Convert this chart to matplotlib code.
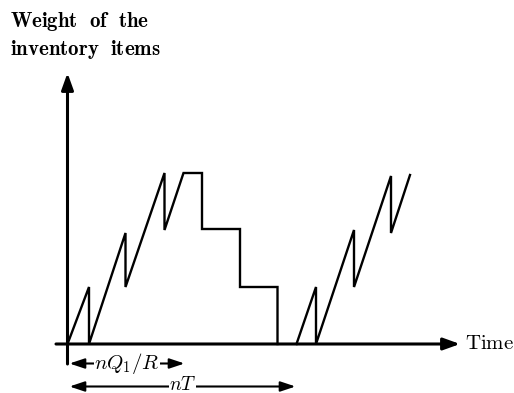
import matplotlib
matplotlib.use("Agg")
import matplotlib.pyplot as plt

plt.rcParams['mathtext.fontset'] = 'cm'
plt.rcParams['font.family'] = ['DejaVu Serif']

# inventory weight path (time, weight)
time1 = [0, 21.5, 21.5, 58, 58, 97, 97, 116, 134.5, 134.5, 172.5, 172.5, 210, 210]
weight1 = [0, 57, 0, 111, 57, 171, 114, 171, 171, 115, 115, 57, 57, 0]
time2 = [229, 248.5, 248.5, 286.5, 286.5, 323.5, 323.5, 342.5]
weight2 = [0, 57, 0, 114, 57, 168, 111, 169]

y_label_lines = [r"$\mathbf{Weight\ \ of\ \ the}$", r"$\mathbf{inventory\ \ items}$"]
x_label = r"$\mathrm{Time}$"
dim1_label = r"$nQ_1/R$"
dim2_label = r"$nT$"
dim1_span = [2, 117]
dim2_span = [2, 228]

W, H = 514, 393
fig = plt.figure(figsize=(W / 100, H / 100), dpi=100)
ax = fig.add_axes([0, 0, 1, 1])
ox, oy = 67.5, 344
ax.set_xlim(-ox, W - ox)
ax.set_ylim(oy - H, oy)
ax.axis('off')

lw = 1.7
ax.plot(time1, weight1, color='black', lw=lw, solid_joinstyle='miter')
ax.plot(time2, weight2, color='black', lw=lw, solid_joinstyle='miter')

# axes with arrows
axprops = dict(arrowstyle='-|>,head_length=1.0,head_width=0.36', color='black',
               lw=2.2, mutation_scale=10, shrinkA=0, shrinkB=0)
ax.annotate('', xy=(392.5, 0), xytext=(-11.5, 0), arrowprops=axprops)
ax.annotate('', xy=(0, 271), xytext=(0, -20), arrowprops=axprops)

# dimension arrows
dprops = dict(arrowstyle='<|-|>,head_length=0.9,head_width=0.3', color='black',
              lw=1.5, mutation_scale=10, shrinkA=0, shrinkB=0)
ax.annotate('', xy=(dim1_span[1], -19.5), xytext=(dim1_span[0], -19.5), arrowprops=dprops)
ax.annotate('', xy=(dim2_span[1], -42.5), xytext=(dim2_span[0], -42.5), arrowprops=dprops)
ax.text(sum(dim1_span) / 2, -19.5, dim1_label, fontsize=15, ha='center', va='center',
        bbox=dict(facecolor='white', edgecolor='none', pad=0.5))
ax.text(sum(dim2_span) / 2, -46.5, dim2_label, fontsize=14, ha='center', va='baseline',
        bbox=dict(facecolor='white', edgecolor='none', pad=0.0))

ax.text(-57.5, 317.3, y_label_lines[0], fontsize=15, ha='left', va='baseline')
ax.text(-57.5, 289, y_label_lines[1], fontsize=15, ha='left', va='baseline')
ax.text(397.5, -5, x_label, fontsize=15, ha='left', va='baseline')

fig.savefig('out.png', dpi=100)
